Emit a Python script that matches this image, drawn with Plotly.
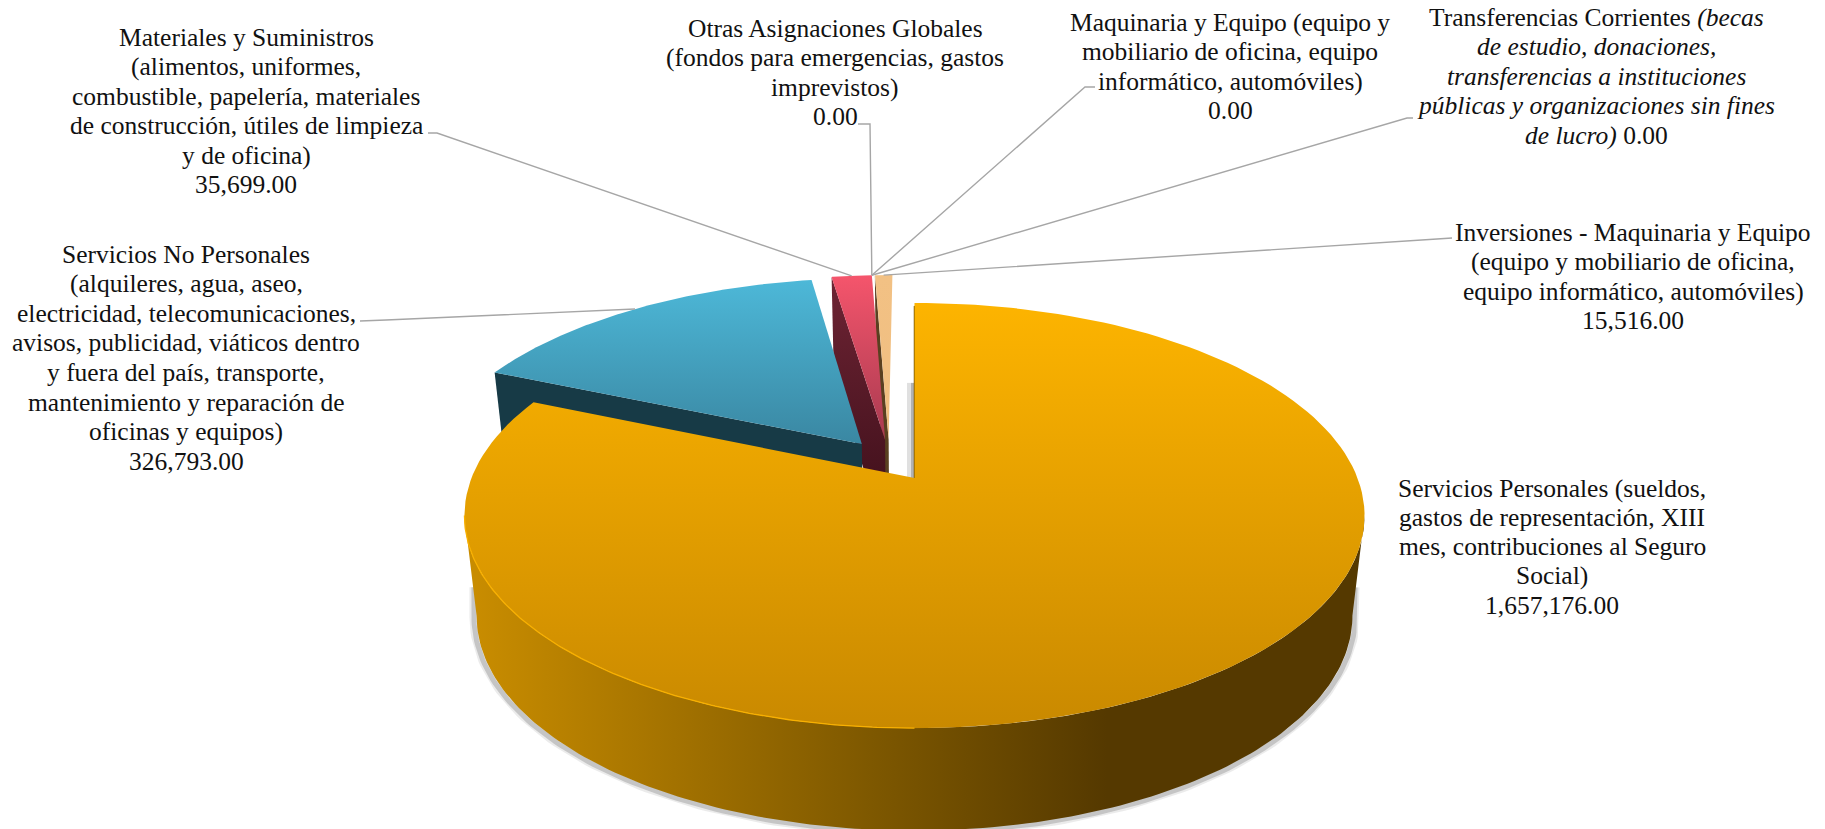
import numpy as np
import plotly.graph_objects as go

# ---- data ----
categories = ["Servicios Personales", "Servicios No Personales", "Materiales y Suministros",
              "Otras Asignaciones Globales", "Maquinaria y Equipo",
              "Transferencias Corrientes", "Inversiones - Maquinaria y Equipo"]
values = [1657176.00, 326793.00, 35699.00, 0.00, 0.00, 0.00, 15516.00]
value_labels = ["1,657,176.00", "326,793.00", "35,699.00", "0.00", "0.00", "0.00", "15,516.00"]

label_lines = [
    ["Servicios Personales (sueldos,", "gastos de representación, XIII", "mes, contribuciones al Seguro", "Social)", value_labels[0]],
    ["Servicios No Personales", "(alquileres, agua, aseo,", "electricidad, telecomunicaciones,",
     "avisos, publicidad, viáticos dentro", "y fuera del país, transporte,", "mantenimiento y reparación de",
     "oficinas y equipos)", value_labels[1]],
    ["Materiales y Suministros", "(alimentos, uniformes,", "combustible, papelería, materiales",
     "de construcción, útiles de limpieza", "y de oficina)", value_labels[2]],
    ["Otras Asignaciones Globales", "(fondos para emergencias, gastos", "imprevistos)", value_labels[3]],
    ["Maquinaria y Equipo (equipo y", "mobiliario de oficina, equipo", "informático, automóviles)", value_labels[4]],
    ["Transferencias Corrientes <i>(becas</i>", "<i>de estudio, donaciones,</i>", "<i>transferencias a instituciones</i>",
     "<i>públicas y organizaciones sin fines</i>", "<i>de lucro)</i> " + value_labels[5]],
    ["Inversiones - Maquinaria y Equipo", "(equipo y mobiliario de oficina,", "equipo informático, automóviles)", value_labels[6]],
]
label_x = [1552, 186, 246, 835, 1230, 1596, 1633]
label_y0 = [488, 254, 37, 28, 22, 17, 232]
line_gap = [29.3, 29.6, 29.5, 29.5, 29.5, 29.5, 29.6]
# label-side ends of the leader lines (text end, elbow); None = no leader
leader_ends = [None, [(360, 321), (386, 320)], [(428, 133), (437, 133)], [(858, 124), (870, 124)],
               [(1095, 87), (1085, 87)], [(1413, 118), (1407, 118)], [(1452, 238), (1437, 239)]]

slice_top = [("#FDB400", "#C98900"), ("#4DB8D8", "#3A87A2"), ("#F5556C", "#A83A50"),
             None, None, None, ("#F2C184", "#F0BE80")]
slice_wall = ["#5A3C00", "#173A46", ("#6E2434", "#47131F"), None, None, None, "#5A4020"]
orange_wall_scale = [[0, "#C88C00"], [0.45, "#7E5800"], [0.72, "#553900"], [1, "#553900"]]

# ---- projection of the tilted disc ----
CX, CY, A, B, K = 914.5, 478.0, 443.0, 206.0, 0.1765
DEPTH, LOW_X, LOW_Y, EXPL = 100.0, 0.973, 1.01, 0.105


def project(u, v, low=False):
    d = 1 + K * v
    sx = LOW_X if low else 1.0
    sy = LOW_Y if low else 1.0
    return CX + sx * A * u / d, CY + (DEPTH if low else 0) - sy * B * v / d


total = sum(values)
edges = np.cumsum([0] + values) / total * 2 * np.pi
mids = (edges[:-1] + edges[1:]) / 2
# everything is drawn relative to the first slice's apex
off0 = EXPL * np.array([np.sin(mids[0]), np.cos(mids[0])])


def offset(i):
    return EXPL * np.array([np.sin(mids[i]), np.cos(mids[i])]) - off0


def arc(i, a0, a1, low=False, n=160):
    t = np.linspace(a0, a1, n)
    o = offset(i)
    return project(np.sin(t) + o[0], np.cos(t) + o[1], low)


def apex(i, low=False):
    o = offset(i)
    return project(o[0], o[1], low)


fig = go.Figure()


def poly(x, y, name, fill=None, gradient=None):
    kw = dict(x=list(x) + [x[0]], y=list(y) + [y[0]], mode="lines", fill="toself", name=name,
              line=dict(width=0), hoverinfo="name", showlegend=False)
    if gradient is not None:
        kw["fillgradient"] = gradient
        kw["fillcolor"] = None
    else:
        kw["fillcolor"] = fill
    fig.add_trace(go.Scatter(**kw))


def vgrad(y0, y1, c0, c1):
    return dict(type="vertical", colorscale=[[0, c0], [1, c1]], start=y0, stop=y1)


def top(i):
    ax, ay = arc(i, edges[i], edges[i + 1])
    px, py = apex(i)
    x = np.r_[px, ax]
    y = np.r_[py, ay]
    c0, c1 = slice_top[i]
    poly(x, y, categories[i], gradient=vgrad(y.min(), y.max(), c0, c1))


def radial_wall(i, ang, color):
    ax, ay = arc(i, ang, ang, n=1)
    bx, by = arc(i, ang, ang, low=True, n=1)
    px, py = apex(i)
    qx, qy = apex(i, low=True)
    x = [ax[0], px, qx, bx[0]]
    y = [ay[0], py, qy, by[0]]
    if isinstance(color, tuple):
        poly(x, y, categories[i], gradient=vgrad(min(y), py + 30, color[0], color[1]))
    else:
        poly(x, y, categories[i], fill=color)


# angles where the main slice's outline is widest: the wall's silhouette runs between them
probe = np.linspace(0, edges[1], 2000)
probe_x, _ = project(np.sin(probe), np.cos(probe))
ang_r, ang_l = probe[np.argmax(probe_x)], probe[np.argmin(probe_x)]

# soft shadow under the main slice
sx, sy = arc(0, ang_r, ang_l, low=True)
sx = CX + (sx - CX) * 1.006
sx = np.r_[sx[0], sx, sx[-1]]
sy = np.r_[sy[0] - 30, sy, sy[-1] - 30]
for w, col in [(9, "rgba(120,120,120,0.15)"), (5, "rgba(110,110,110,0.3)")]:
    fig.add_trace(go.Scatter(x=sx, y=sy + 1.5, mode="lines", line=dict(color=col, width=w),
                             hoverinfo="skip", showlegend=False))

# back slices first
radial_wall(6, edges[6], slice_wall[6])
top(6)
radial_wall(2, edges[2], slice_wall[2])
top(2)
radial_wall(1, edges[1], slice_wall[1])
top(1)

# grey shadow line beside the cut of the main slice
px0, py0 = apex(0)
ox0, oy0 = arc(0, 0, 0, n=1)
fig.add_trace(go.Scatter(x=[px0 - 4, px0 - 4], y=[oy0[0] + 80, py0], mode="lines",
                         line=dict(color="rgba(130,130,130,0.25)", width=7),
                         hoverinfo="skip", showlegend=False))
fig.add_trace(go.Scatter(x=[px0 - 2, px0 - 2], y=[oy0[0] + 80, py0], mode="lines",
                         line=dict(color="rgba(110,110,110,0.4)", width=3),
                         hoverinfo="skip", showlegend=False))
# thin brown cut face
fig.add_trace(go.Scatter(x=[ox0[0], px0], y=[oy0[0] + 3, py0], mode="lines",
                         line=dict(color="#6B4C00", width=1.5), hoverinfo="skip", showlegend=False))

# main slice wall
ta_x, ta_y = arc(0, ang_r, ang_l)
lo_x, lo_y = arc(0, ang_r, ang_l, low=True)
poly(np.r_[ta_x, lo_x[::-1]], np.r_[ta_y, lo_y[::-1]], categories[0],
     gradient=dict(type="horizontal", colorscale=orange_wall_scale, start=float(lo_x.min()), stop=float(lo_x.max())))
top(0)
# bright rim on the front-left edge
rx, ry = arc(0, np.pi, ang_l)
fig.add_trace(go.Scatter(x=rx, y=ry, mode="lines", line=dict(color="#F8B000", width=1.3),
                         hoverinfo="skip", showlegend=False))

# leader lines end on the middle of each slice's outer edge
for i, ends in enumerate(leader_ends):
    if ends is None:
        continue
    ax, ay = arc(i if values[i] > 0 else 2, mids[i], mids[i], n=1)
    xs = [e[0] for e in ends] + [ax[0]]
    ys = [e[1] for e in ends] + [ay[0]]
    fig.add_trace(go.Scatter(x=xs, y=ys, mode="lines", line=dict(color="#A6A6A6", width=1.4),
                             hoverinfo="skip", showlegend=False))

annotations = []
for i, lines in enumerate(label_lines):
    for j, t in enumerate(lines):
        annotations.append(dict(x=label_x[i], y=label_y0[i] + j * line_gap[i], xref="x", yref="y",
                                text=t, showarrow=False, xanchor="center", yanchor="middle",
                                font=dict(family="Liberation Serif", size=25.5, color="#111111")))

fig.update_layout(
    width=1825, height=829, margin=dict(l=0, r=0, t=0, b=0),
    paper_bgcolor="white", plot_bgcolor="white", showlegend=False,
    xaxis=dict(range=[0, 1825], visible=False, fixedrange=True),
    yaxis=dict(range=[829, 0], visible=False, fixedrange=True),
    annotations=annotations,
)
fig.write_html("out.html", config={"displayModeBar": False},
               post_script="document.body.style.margin='0';document.body.style.overflow='hidden';")
